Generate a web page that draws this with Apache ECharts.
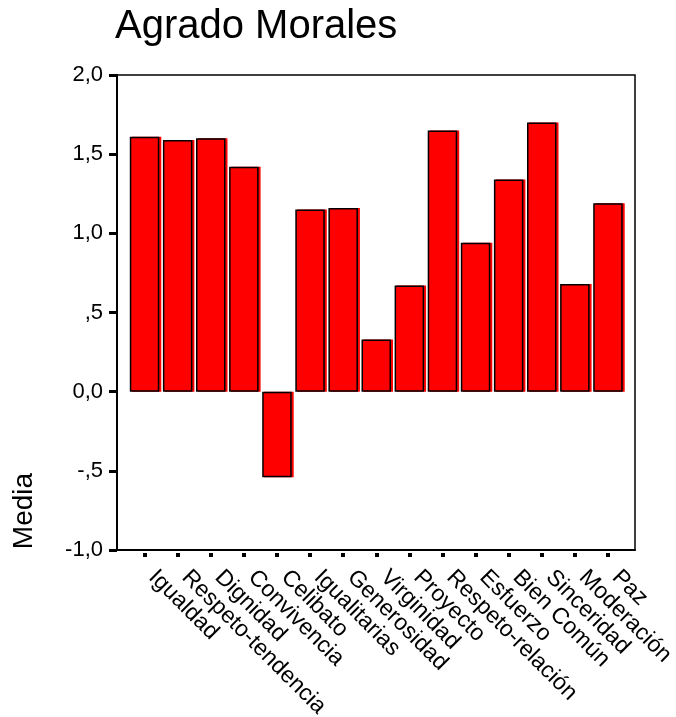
<!DOCTYPE html>
<html lang="es">
<head>
    <meta charset="UTF-8">
    <title>Agrado Morales</title>
    <script src="https://cdn.jsdelivr.net/npm/echarts@6/dist/echarts.min.js"></script>
    <style>
        html, body {
            margin: 0;
            height: 100%;
            background: #fff;
        }
    </style>
</head>
<body>
<div id="main" style="width: 676px;height: 717px"></div>
<script>
    // datos
    var categorias = ['Igualdad', 'Respeto-tendencia', 'Dignidad', 'Convivencia', 'Celibato',
        'Igualitarias', 'Generosidad', 'Virginidad', 'Proyecto', 'Respeto-relación',
        'Esfuerzo', 'Bien Común', 'Sinceridad', 'Moderación', 'Paz'];
    var medias = [1.61, 1.59, 1.60, 1.42, -0.54, 1.15, 1.16, 0.33, 0.67, 1.65, 0.94, 1.34, 1.70, 0.68, 1.19];
    var yTicks = ['-1,0', '-,5', '0,0', ',5', '1,0', '1,5', '2,0'];
    var yMin = -1, yMax = 2, yStep = 0.5;

    var fuente = "'Liberation Sans', Arial, sans-serif";
    var myChart = echarts.init(document.getElementById('main'), null, {renderer: 'canvas'});

    var option = {
        backgroundColor: '#fff',
        animation: false,
        title: {
            text: 'Agrado Morales',
            left: 111,
            top: 3,
            padding: 4,
            textStyle: {fontFamily: fuente, fontSize: 40, fontWeight: 'normal', color: '#000'}
        },
        graphic: [{
            type: 'text',
            x: 24,
            y: 511,
            rotation: Math.PI / 2,
            style: {
                text: 'Media',
                font: '28px ' + fuente,
                fill: '#000',
                textAlign: 'center',
                textVerticalAlign: 'middle'
            }
        }],
        grid: [
            // marco exterior
            {left: 117, right: 41, top: 75, bottom: 167, outerBoundsMode: 'none',
                show: true, borderColor: '#000', borderWidth: 1.5},
            // zona de barras
            {left: 128, right: 51.5, top: 75, bottom: 167, outerBoundsMode: 'none'}
        ],
        xAxis: [{
            gridIndex: 0,
            type: 'value',
            min: 0,
            max: 1,
            axisLine: {show: true, onZero: false, lineStyle: {color: '#000', width: 2}},
            axisTick: {show: false},
            axisLabel: {show: false},
            splitLine: {show: false}
        }, {
            gridIndex: 1,
            type: 'category',
            data: categorias,
            offset: 3,
            axisLine: {show: false, onZero: false},
            axisTick: {show: true, alignWithLabel: true, length: 4, lineStyle: {color: '#000', width: 4}},
            axisLabel: {
                interval: 0,
                rotate: -45,
                margin: 13,
                padding: [0, 0, 0, 11],
                verticalAlign: 'middle',
                color: '#000',
                fontFamily: fuente,
                fontSize: 23
            }
        }],
        yAxis: [{
            gridIndex: 0,
            type: 'value',
            min: yMin,
            max: yMax,
            interval: yStep,
            axisLine: {show: true, lineStyle: {color: '#000', width: 2}},
            axisTick: {show: true, length: 8, lineStyle: {color: '#000', width: 3}},
            splitLine: {show: false},
            axisLabel: {
                margin: 14,
                color: '#000',
                fontFamily: fuente,
                fontSize: 22,
                formatter: function (v) {
                    return yTicks[Math.round((v - yMin) / yStep)];
                }
            }
        }, {
            gridIndex: 1,
            type: 'value',
            min: yMin,
            max: yMax,
            show: false
        }],
        series: [{
            type: 'bar',
            xAxisIndex: 1,
            yAxisIndex: 1,
            data: medias,
            barWidth: 29.5,
            itemStyle: {
                color: '#ff0000',
                borderColor: '#000',
                borderWidth: 1.5,
                shadowColor: '#ff0000',
                shadowOffsetX: 2,
                shadowOffsetY: 0,
                shadowBlur: 0
            }
        }]
    };

    myChart.setOption(option);
</script>
</body>
</html>
